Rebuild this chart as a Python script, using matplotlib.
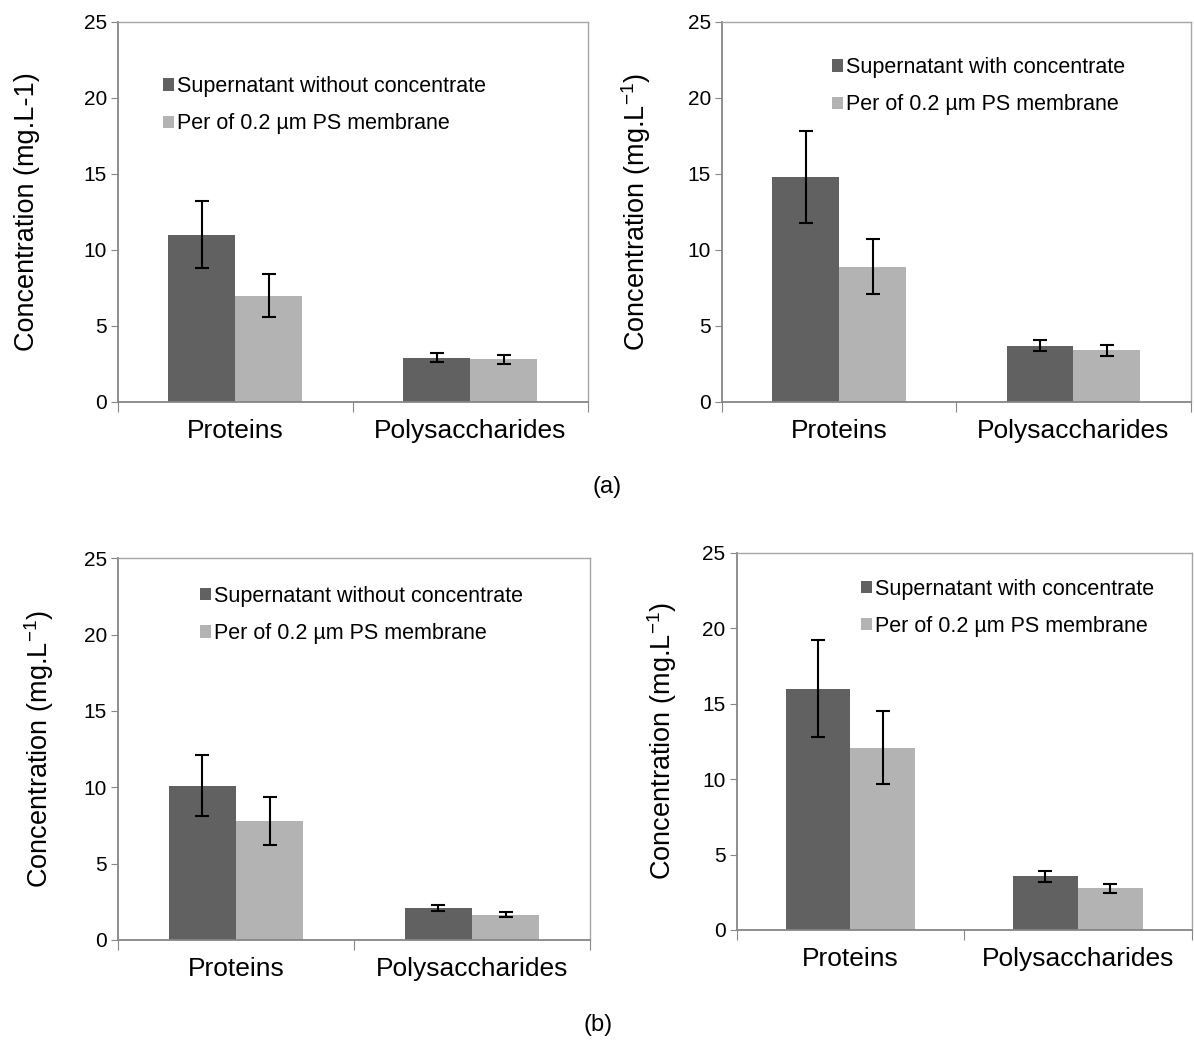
import numpy as np
import matplotlib
matplotlib.use('Agg')
import matplotlib.pyplot as plt

plt.rcParams['font.family'] = ['Liberation Sans', 'DejaVu Sans']
plt.rcParams['mathtext.fontset'] = 'custom'
plt.rcParams['mathtext.rm'] = 'Liberation Sans'

# datos de cada panel
categorias = ['Proteins', 'Polysaccharides']

a1_sobrenadante = [11.0, 2.9]
a1_sobrenadante_err = [2.2, 0.3]
a1_permeado = [7.0, 2.8]
a1_permeado_err = [1.4, 0.3]

a2_sobrenadante = [14.8, 3.7]
a2_sobrenadante_err = [3.0, 0.35]
a2_permeado = [8.9, 3.4]
a2_permeado_err = [1.8, 0.35]

b1_sobrenadante = [10.1, 2.1]
b1_sobrenadante_err = [2.0, 0.2]
b1_permeado = [7.8, 1.65]
b1_permeado_err = [1.55, 0.15]

b2_sobrenadante = [16.0, 3.55]
b2_sobrenadante_err = [3.2, 0.35]
b2_permeado = [12.1, 2.75]
b2_permeado_err = [2.4, 0.3]

etiqueta_sin = 'Supernatant without concentrate'
etiqueta_con = 'Supernatant with concentrate'
etiqueta_per = 'Per of 0.2 µm PS membrane'

oscuro = '#616161'
claro = '#b3b3b3'

fig = plt.figure(figsize=(11.94, 10.40), dpi=100)


def panel(pos, s, s_err, p, p_err, etiqueta, ylabel, ley_pos, pad_y):
    ax = fig.add_axes(pos)
    x = np.arange(len(categorias)) + 0.5
    w = 0.285
    ax.bar(x - w / 2, s, w, color=oscuro, label=etiqueta)
    ax.bar(x + w / 2, p, w, color=claro, label=etiqueta_per)
    ax.errorbar(x - w / 2, s, yerr=s_err, fmt='none', ecolor='black',
                elinewidth=1.5, capsize=5, capthick=1.5)
    ax.errorbar(x + w / 2, p, yerr=p_err, fmt='none', ecolor='black',
                elinewidth=1.5, capsize=5, capthick=1.5)
    ax.set_xlim(0, 2)
    ax.set_ylim(0, 25)
    ax.set_yticks([0, 5, 10, 15, 20, 25])
    ax.set_xticks([0, 1, 2])
    ax.set_xticklabels([])
    ax.set_xticks(x, minor=True)
    ax.set_xticklabels(categorias, minor=True, fontsize=19)
    ax.tick_params(axis='x', which='minor', length=0, pad=12)
    ax.tick_params(axis='x', which='major', length=7, color='#868686')
    ax.tick_params(axis='y', length=5, color='#868686', labelsize=15, pad=3)
    for lado in ['left', 'bottom']:
        ax.spines[lado].set_color('#868686')
        ax.spines[lado].set_linewidth(1.3)
    for lado in ['top', 'right']:
        ax.spines[lado].set_color('#a6a6a6')
        ax.spines[lado].set_linewidth(1.0)
    ax.set_ylabel(ylabel, fontsize=19.5, labelpad=pad_y)
    ax.legend(loc='upper left', bbox_to_anchor=ley_pos, frameon=False,
              fontsize=15.5, handlelength=0.5, handleheight=0.5,
              handletextpad=0.15, labelspacing=0.75, borderaxespad=0)
    return ax


sup = r'Concentration (mg.L$\mathregular{^{-1}}$)'

panel([0.0988, 0.6135, 0.3936, 0.3654], a1_sobrenadante, a1_sobrenadante_err,
      a1_permeado, a1_permeado_err, etiqueta_sin,
      'Concentration (mg.L-1)', (0.077, 0.88), 31)
panel([0.6047, 0.6135, 0.3925, 0.3654], a2_sobrenadante, a2_sobrenadante_err,
      a2_permeado, a2_permeado_err, etiqueta_con,
      sup, (0.216, 0.93), 25)
panel([0.0988, 0.0962, 0.3955, 0.367], b1_sobrenadante, b1_sobrenadante_err,
      b1_permeado, b1_permeado_err, etiqueta_sin,
      sup, (0.156, 0.95), 20)
panel([0.617, 0.1058, 0.381, 0.3625], b2_sobrenadante, b2_sobrenadante_err,
      b2_permeado, b2_permeado_err, etiqueta_con,
      sup, (0.254, 0.955), 17)

fig.text(607 / 1194, 1 - 487 / 1040, '(a)', fontsize=17, ha='center', va='center')
fig.text(598 / 1194, 1 - 1025 / 1040, '(b)', fontsize=17, ha='center', va='center')

fig.savefig('out.png', dpi=100)
